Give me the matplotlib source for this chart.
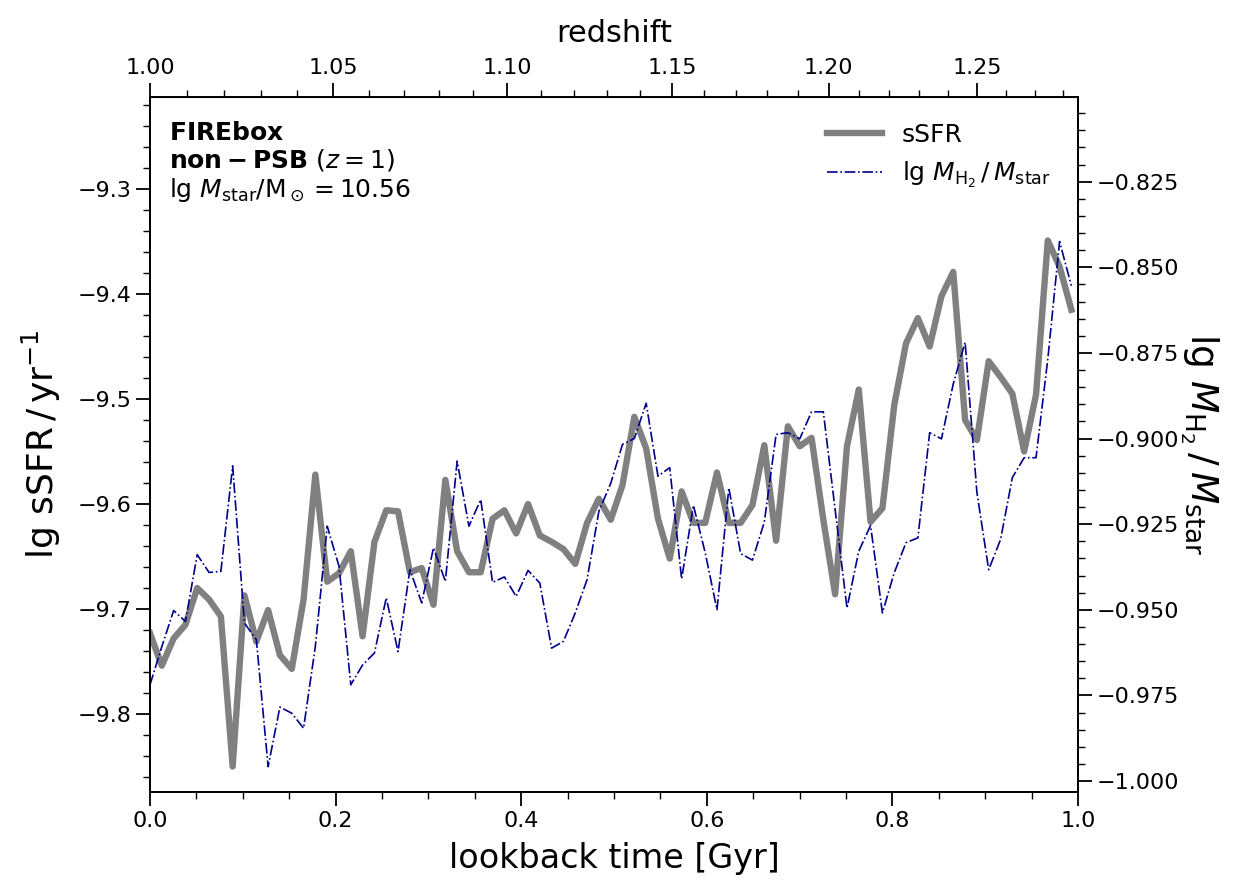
import matplotlib
matplotlib.use("Agg")
import matplotlib.pyplot as plt
import numpy as np
from matplotlib.ticker import MultipleLocator, FormatStrFormatter, FuncFormatter

# lookback time since z=1 [Gyr]
lookback = [0.0, 0.0127, 0.0255, 0.0382, 0.0509, 0.0637, 0.0764, 0.0891, 0.1018, 0.1146,
            0.1273, 0.1400, 0.1528, 0.1655, 0.1782, 0.1910, 0.2037, 0.2164, 0.2291, 0.2419,
            0.2546, 0.2673, 0.2801, 0.2928, 0.3055, 0.3183, 0.3310, 0.3437, 0.3564, 0.3692,
            0.3819, 0.3946, 0.4074, 0.4201, 0.4328, 0.4456, 0.4583, 0.4710, 0.4837, 0.4965,
            0.5092, 0.5219, 0.5347, 0.5474, 0.5601, 0.5729, 0.5856, 0.5983, 0.6110, 0.6238,
            0.6365, 0.6492, 0.6620, 0.6747, 0.6874, 0.7002, 0.7129, 0.7256, 0.7383, 0.7511,
            0.7638, 0.7765, 0.7893, 0.8020, 0.8147, 0.8275, 0.8402, 0.8529, 0.8656, 0.8784,
            0.8911, 0.9038, 0.9166, 0.9293, 0.9420, 0.9548, 0.9675, 0.9802, 0.9929]

# lg sSFR / yr^-1
ssfr = [-9.723, -9.754, -9.728, -9.715, -9.680, -9.691, -9.707, -9.850, -9.687, -9.731,
        -9.701, -9.744, -9.757, -9.691, -9.572, -9.674, -9.666, -9.645, -9.726, -9.636,
        -9.606, -9.607, -9.665, -9.661, -9.696, -9.577, -9.645, -9.665, -9.665, -9.614,
        -9.606, -9.628, -9.600, -9.630, -9.636, -9.643, -9.657, -9.618, -9.595, -9.615,
        -9.582, -9.517, -9.547, -9.614, -9.652, -9.588, -9.618, -9.618, -9.570, -9.618,
        -9.618, -9.601, -9.544, -9.635, -9.526, -9.545, -9.537, -9.615, -9.686, -9.545,
        -9.491, -9.617, -9.604, -9.506, -9.447, -9.423, -9.450, -9.402, -9.379, -9.520,
        -9.539, -9.464, -9.479, -9.495, -9.550, -9.496, -9.349, -9.374, -9.415]

# lg M_H2 / M_star
h2_frac = [-0.9719, -0.9608, -0.9502, -0.9534, -0.9339, -0.9391, -0.9388, -0.9080, -0.9539, -0.9587,
           -0.9958, -0.9784, -0.9802, -0.9846, -0.9607, -0.9256, -0.9373, -0.9719, -0.9661, -0.9626,
           -0.9465, -0.9622, -0.9383, -0.9480, -0.9319, -0.9417, -0.9066, -0.9256, -0.9178, -0.9420,
           -0.9404, -0.9461, -0.9385, -0.9422, -0.9612, -0.9592, -0.9509, -0.9412, -0.9213, -0.9131,
           -0.9017, -0.9000, -0.8897, -0.9110, -0.9085, -0.9410, -0.9195, -0.9333, -0.9500, -0.9144,
           -0.9336, -0.9355, -0.9244, -0.8988, -0.8983, -0.9001, -0.8922, -0.8922, -0.9207, -0.9495,
           -0.9329, -0.9254, -0.9509, -0.9392, -0.9304, -0.9290, -0.8983, -0.9001, -0.8841, -0.8719,
           -0.9157, -0.9383, -0.9295, -0.9114, -0.9056, -0.9056, -0.8768, -0.8425, -0.8554]

# redshift <-> lookback time since z=1 (flat LCDM, Planck 2015) for the top axis
h0, om = 0.6774, 0.3089
zgrid = np.linspace(0.9, 1.5, 1201)
integrand = 977.8 / (100 * h0) / ((1 + zgrid) * np.sqrt(om * (1 + zgrid) ** 3 + 1 - om))
tgrid = np.concatenate([[0.0], np.cumsum(0.5 * (integrand[1:] + integrand[:-1]) * np.diff(zgrid))])
tgrid = tgrid - np.interp(1.0, zgrid, tgrid)


def t2z(t):
    return np.interp(t, tgrid, zgrid)


def z2t(z):
    return np.interp(z, zgrid, tgrid)


fig = plt.figure(figsize=(12.53, 8.91), dpi=100)
ax = fig.add_axes([0.1197, 0.1111, 0.7406, 0.7800])
ax2 = ax.twinx()

l1 = ax.plot(lookback, ssfr, color='gray', lw=4.6, label='sSFR')
l2 = ax2.plot(lookback, h2_frac, color='darkblue', lw=1.2, ls='-.',
              label=r'$\lg\,M_{\rm H_2}\,/\,M_{\rm star}$')

ax.set_xlim(0, 1)
ax.set_ylim(-9.8743, -9.2124)
ax2.set_ylim(-1.0032, -0.8003)

ax.xaxis.set_major_locator(MultipleLocator(0.2))
ax.xaxis.set_minor_locator(MultipleLocator(0.05))
ax.yaxis.set_major_locator(MultipleLocator(0.1))
ax.yaxis.set_minor_locator(MultipleLocator(0.02))
ax2.yaxis.set_major_locator(MultipleLocator(0.025))
ax2.yaxis.set_minor_locator(MultipleLocator(0.005))
ax2.yaxis.set_major_formatter(FuncFormatter(lambda v, p: f'{v:.3f}'.replace('-', '\u2212')))

ax.tick_params(which='both', direction='out', top=False, right=False, labelsize=16)
ax.tick_params(which='major', length=10, width=1.3)
ax.tick_params(which='minor', length=5, width=1.0)
ax2.tick_params(which='both', direction='out', labelsize=16)
ax2.tick_params(which='major', length=10, width=1.3)
ax2.tick_params(which='minor', length=5, width=1.0)

secax = ax.secondary_xaxis('top', functions=(t2z, z2t))
secax.xaxis.set_major_locator(MultipleLocator(0.05))
secax.xaxis.set_minor_locator(MultipleLocator(0.01))
secax.xaxis.set_major_formatter(FormatStrFormatter('%.2f'))
secax.tick_params(which='both', direction='out', labelsize=16)
secax.tick_params(which='major', length=10, width=1.3)
secax.tick_params(which='minor', length=5, width=1.0)
secax.set_xlabel('redshift', fontsize=22, labelpad=12)

for a in (ax, ax2):
    for s in a.spines.values():
        s.set_linewidth(1.3)

ax.set_xlabel('lookback time [Gyr]', fontsize=24, labelpad=8)
ax.set_ylabel(r'$\lg\,{\rm sSFR}\,/\,{\rm yr}^{-1}$', fontsize=26, labelpad=10)
ax2.set_ylabel(r'$\lg\,M_{\rm H_2}\,/\,M_{\rm star}$', fontsize=27, rotation=270, labelpad=30)

ax.text(0.02, 0.965,
        r'$\bf{FIREbox}$' + '\n' + r'$\mathbf{non-PSB}$ $(z=1)$' + '\n' + r'lg $M_{\rm star}$/M$_\odot=10.56$',
        transform=ax.transAxes, va='top', ha='left', fontsize=18, linespacing=1.1)

ax2.legend(handles=l1 + l2, loc='upper right', frameon=False, fontsize=18,
           handlelength=2.2, bbox_to_anchor=(0.995, 0.995))

fig.savefig('out.png', dpi=100)
